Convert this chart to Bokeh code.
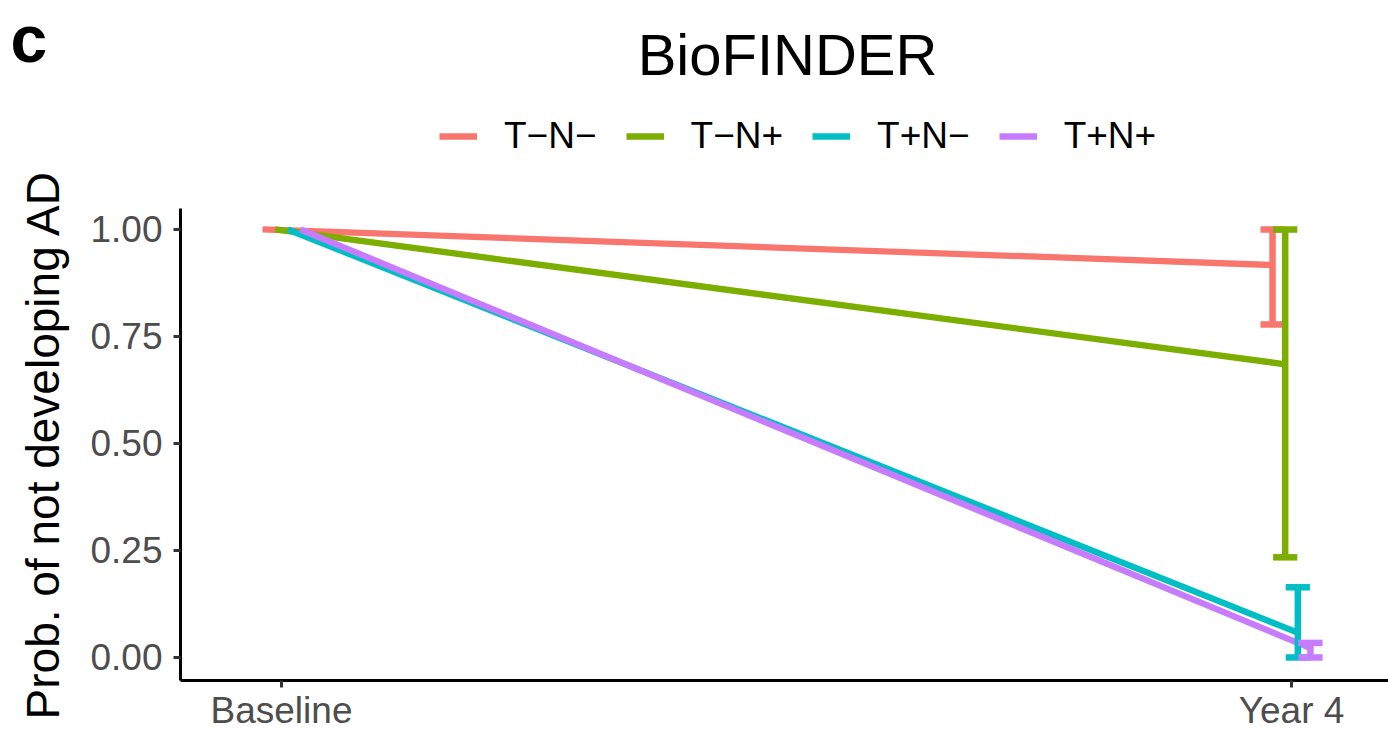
from bokeh.plotting import figure
from bokeh.models import (ColumnDataSource, Legend, LegendItem, Label, FixedTicker, Range1d)
from bokeh.core.properties import value
from bokeh.embed import file_html
from bokeh.resources import INLINE

# ---------------- data ----------------
groups = ["T−N−", "T−N+", "T+N−", "T+N+"]
colors = ["#F8766D", "#7CAE00", "#00BFC4", "#C77CFF"]
timepoints = ["Baseline", "Year 4"]
time_x = [1, 2]
prob_baseline = [1.0, 1.0, 1.0, 1.0]
prob_year4 = [0.917, 0.685, 0.058, 0.022]
ci_lower_year4 = [0.778, 0.234, 0.0, 0.0]
ci_upper_year4 = [1.0, 1.0, 0.164, 0.034]
y_ticks = [0, 0.25, 0.5, 0.75, 1.0]
y_tick_labels = ["0.00", "0.25", "0.50", "0.75", "1.00"]
title_text = "BioFINDER"
panel_label = "c"
y_label = "Prob. of not developing AD"

FONT = "Liberation Sans"
W, H = 1388, 732
DODGE = 0.05
n = len(groups)
offsets = [(i - (n - 1) / 2) * DODGE / n for i in range(n)]
CAP_HALF = 0.012

# plotting panel: x from 0.9 to 2.096, y from -0.0537 to 1.049 (axis extents)
X_LO, X_HI = 0.9, 2.096
Y_LO, Y_HI = -0.0537, 1.049
PX_X, PX_Y = 1010.0, 428.0          # pixels per data unit
x_start = X_LO - 180 / PX_X
y_end = Y_HI + 208 / PX_Y
p = figure(width=W, height=H,
           x_range=Range1d(x_start, x_start + W / PX_X),
           y_range=Range1d(y_end - H / PX_Y, y_end),
           output_backend="svg", toolbar_location=None, min_border=0)
p.outline_line_color = None
p.xgrid.visible = False
p.ygrid.visible = False
p.background_fill_color = "white"
p.border_fill_color = "white"

# lines
line_renderers = []
for i, g in enumerate(groups):
    r = p.line(x=[time_x[0] + offsets[i], time_x[1] + offsets[i]],
               y=[prob_baseline[i], prob_year4[i]],
               line_color=colors[i], line_width=6.3)
    line_renderers.append(r)

# error bars at Year 4
for i in range(n):
    xc = time_x[1] + offsets[i]
    s = ColumnDataSource(dict(x=[xc], xl=[xc - CAP_HALF], xr=[xc + CAP_HALF],
                              lower=[ci_lower_year4[i]], upper=[ci_upper_year4[i]]))
    p.segment(x0="x", y0="lower", x1="x", y1="upper", source=s,
              line_color=colors[i], line_width=6.5)
    p.segment(x0="xl", y0="upper", x1="xr", y1="upper", source=s,
              line_color=colors[i], line_width=6.5)
    p.segment(x0="xl", y0="lower", x1="xr", y1="lower", source=s,
              line_color=colors[i], line_width=6.5)

# legend
items = [LegendItem(label=value(g), renderers=[line_renderers[i]]) for i, g in enumerate(groups)]
legend = Legend(items=items, orientation="horizontal", location=(439, H - 157),
                glyph_width=38, glyph_height=40, label_height=40,
                label_standoff=27, spacing=29, padding=0, margin=0,
                border_line_color=None, background_fill_alpha=0,
                label_text_font_size="37px", label_text_font=FONT,
                label_text_color="black")
p.add_layout(legend)

# title and panel tag
p.add_layout(Label(x=787, y=H - 54, x_units="screen", y_units="screen",
                   text=title_text, text_align="center", text_baseline="alphabetic",
                   text_font=FONT, text_font_size="58px", text_color="black"))
p.add_layout(Label(x=10, y=H - 38, x_units="screen", y_units="screen",
                   text=panel_label, text_align="left", text_baseline="alphabetic",
                   text_font=FONT, text_font_size="66px", text_font_style="bold",
                   text_color="black"))

# axes (drawn at fixed positions through the plot's scales)
for ax in (p.xaxis[0], p.yaxis[0]):
    ax.axis_line_color = "black"
    ax.axis_line_width = 3
    ax.major_tick_line_color = "#333333"
    ax.major_tick_line_width = 3
    ax.major_tick_out = 7
    ax.major_tick_in = 0
    ax.minor_tick_line_color = None
    ax.major_label_text_font = FONT
    ax.major_label_text_font_size = "37px"
    ax.major_label_text_color = "#4D4D4D"

p.xaxis.fixed_location = Y_LO
p.xaxis.bounds = (X_LO, X_HI)
p.xaxis.ticker = FixedTicker(ticks=time_x)
p.xaxis.major_label_overrides = {float(k): v for k, v in zip(time_x, timepoints)}
p.xaxis.major_label_standoff = 3

p.yaxis.fixed_location = X_LO
p.yaxis.bounds = (Y_LO, Y_HI)
p.yaxis.ticker = FixedTicker(ticks=y_ticks)
p.yaxis.major_label_overrides = {float(k): v for k, v in zip(y_ticks, y_tick_labels)}
p.yaxis.major_label_standoff = 11
p.yaxis.axis_label = y_label
p.yaxis.axis_label_text_font = FONT
p.yaxis.axis_label_text_font_size = "46px"
p.yaxis.axis_label_text_font_style = "normal"
p.yaxis.axis_label_text_color = "black"
p.yaxis.axis_label_standoff = 18

open("out.html", "w").write(file_html(p, INLINE))
